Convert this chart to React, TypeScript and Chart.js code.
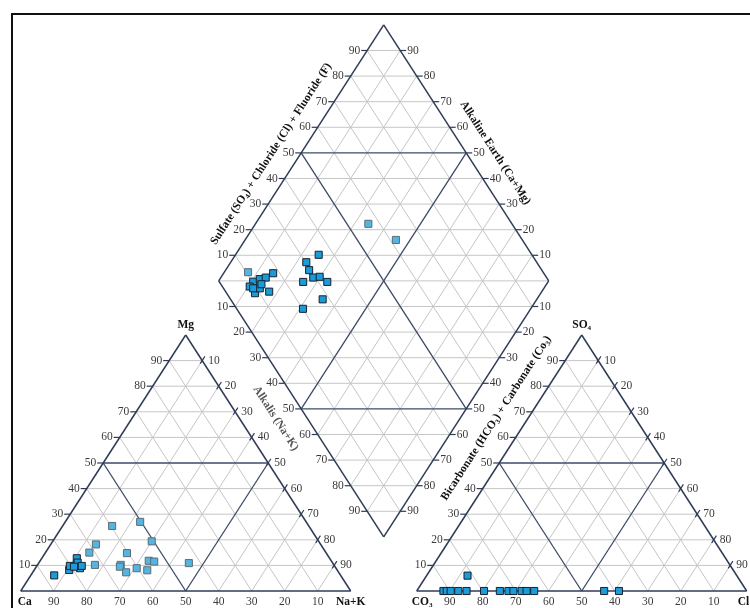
import React, { useEffect, useRef } from 'react';
import { Chart, registerables } from 'chart.js';
Chart.register(...registerables);

// ---------- data (meq %) ----------
const tickValues = [10, 20, 30, 40, 50, 60, 70, 80, 90];

// Cation triangle: Mg % and Na+K % (Ca = remainder)
const cationMgA = [6.1, 8.2, 9.8, 12.8, 11.1, 8.9, 9.8, 9.5];
const cationNaKA = [7.1, 10.6, 10.0, 10.6, 11.7, 13.5, 13.6, 11.4];
const cationMgB = [10.2, 15.0, 18.2, 25.4, 27.0, 19.4, 14.8, 10.2, 9.5, 7.3, 8.9, 8.1, 11.8, 11.5, 10.9];
const cationNaKB = [17.4, 13.3, 13.7, 15.0, 22.7, 30.0, 24.8, 25.2, 25.3, 28.3, 30.7, 34.3, 32.9, 34.7, 45.5];

// Anion triangle: SO4 % and Cl % (CO3+HCO3 = remainder)
const anionSO4 = [0, 0, 0, 0, 0, 0, 0, 0, 0, 0, 0, 0, 0, 0, 6.0];
const anionCl = [8.1, 9.1, 10.3, 12.6, 15.1, 20.4, 25.2, 27.8, 29.3, 31.8, 33.3, 35.6, 56.8, 61.3, 12.4];

// Diamond: Na+K % and SO4+Cl %
const diamondNaKA = [10.6, 12.1, 13.6, 15.0, 10.5, 13.4, 13.9, 17.4, 11.9, 13.6, 25.2, 22.9, 25.3, 28.0, 29.8, 33.1, 25.8, 35.1, 31.0];
const diamondSClA = [10.3, 12.8, 14.9, 18.0, 8.3, 8.6, 11.0, 13.2, 9.0, 12.3, 35.4, 30.2, 29.5, 29.3, 31.4, 32.7, 25.4, 27.9, 20.1];
const diamondNaKB = [7.2, 34.2, 45.7];
const diamondSClB = [10.6, 56.5, 61.7];

// ---------- geometry (units: triangle side = 100) ----------
const H = 86.6025;
const GAP = 20;
const LIFT = 18.3;
const X_MIN = -6.2727, X_MAX = 221.0;
const Y_MIN = -5.751, Y_MAX = 199.925;

type P = { x: number; y: number };
const tri = (ox: number, top: number, right: number): P => ({ x: ox + right + top / 2, y: (top * H) / 100 });
const cat = (mg: number, nak: number) => tri(0, mg, nak);
const an = (so4: number, cl: number) => tri(100 + GAP, so4, cl);
const DL: P = { x: 100 + GAP / 2 - 50, y: LIFT + H };
const dia = (nak: number, s: number): P => ({ x: DL.x + 0.5 * (nak + s), y: DL.y + ((s - nak) * H) / 100 });

type Seg = { t: string; sub?: boolean };
const FONT = '"Liberation Serif", "Times New Roman", serif';

function drawRich(ctx: CanvasRenderingContext2D, segs: Seg[], x: number, y: number, size: number, bold: boolean, color: string, align: 'left' | 'center' | 'right', angle = 0) {
  ctx.save();
  ctx.translate(x, y);
  ctx.rotate(angle);
  const f = (sub?: boolean) => `${bold ? 'bold ' : ''}${sub ? size * 0.62 : size}px ${FONT}`;
  let w = 0;
  for (const s of segs) { ctx.font = f(s.sub); w += ctx.measureText(s.t).width; }
  let cx = align === 'left' ? 0 : align === 'center' ? -w / 2 : -w;
  ctx.textBaseline = 'middle';
  ctx.textAlign = 'left';
  ctx.fillStyle = color;
  for (const s of segs) {
    ctx.font = f(s.sub);
    ctx.fillText(s.t, cx, s.sub ? size * 0.3 : 0);
    cx += ctx.measureText(s.t).width;
  }
  ctx.restore();
}

const GRID = '#c6c6c6';
const DARK = '#3d4a67';
const EDGE = '#2f3b57';
const LABEL = '#3a3a3a';

const piperPlugin = {
  id: 'piper',
  beforeDatasetsDraw(chart: any) {
    const ctx: CanvasRenderingContext2D = chart.ctx;
    const sx = chart.scales.x, sy = chart.scales.y;
    const px = (p: P): [number, number] => [sx.getPixelForValue(p.x), sy.getPixelForValue(p.y)];
    const line = (a: P, b: P, color: string, w: number) => {
      const [x1, y1] = px(a), [x2, y2] = px(b);
      ctx.beginPath(); ctx.moveTo(x1, y1); ctx.lineTo(x2, y2);
      ctx.strokeStyle = color; ctx.lineWidth = w; ctx.stroke();
    };
    ctx.save();
    ctx.fillStyle = '#ffffff';
    ctx.fillRect(0, 0, chart.width, chart.height);

    // triangles grid
    const triGrid = (ox: number) => {
      for (const pass of [0, 1]) {
        for (const v of tickValues) {
          const isDark = v === 50;
          if ((pass === 0) === isDark) continue;
          const c = isDark ? DARK : GRID, w = isDark ? 1.3 : 1;
          line(tri(ox, v, 0), tri(ox, v, 100 - v), c, w);
          line(tri(ox, 0, v), tri(ox, 100 - v, v), c, w);
          line(tri(ox, 0, 100 - v), tri(ox, 100 - v, 0), c, w);
        }
      }
      line(tri(ox, 0, 0), tri(ox, 0, 100), EDGE, 1.5);
      line(tri(ox, 0, 100), tri(ox, 100, 0), EDGE, 1.5);
      line(tri(ox, 100, 0), tri(ox, 0, 0), EDGE, 1.5);
    };
    triGrid(0);
    triGrid(100 + GAP);

    // diamond grid
    for (const pass of [0, 1]) {
      for (const v of tickValues) {
        const isDark = v === 50;
        if ((pass === 0) === isDark) continue;
        const c = isDark ? DARK : GRID, w = isDark ? 1.3 : 1;
        line(dia(v, 0), dia(v, 100), c, w);
        line(dia(0, v), dia(100, v), c, w);
      }
      for (let d = -90; d <= 90; d += 10) {
        const isDark = Math.abs(d) === 50;
        if ((pass === 0) === isDark) continue;
        const c = isDark ? DARK : GRID, w = isDark ? 1.3 : 1;
        if (d >= 0) line(dia(0, d), dia(100 - d, 100), c, w);
        else line(dia(-d, 0), dia(100, 100 + d), c, w);
      }
    }
    line(dia(0, 0), dia(0, 100), EDGE, 1.5);
    line(dia(0, 100), dia(100, 100), EDGE, 1.5);
    line(dia(100, 100), dia(100, 0), EDGE, 1.5);
    line(dia(100, 0), dia(0, 0), EDGE, 1.5);

    // ticks and labels
    const tickH = (p: P, side: -1 | 1, text: string) => {
      const [x, y] = px(p);
      ctx.beginPath(); ctx.moveTo(x, y); ctx.lineTo(x + side * 6, y);
      ctx.strokeStyle = EDGE; ctx.lineWidth = 1.2; ctx.stroke();
      drawRich(ctx, [{ t: text }], x + side * 7, y, 11.5, false, LABEL, side < 0 ? 'right' : 'left');
    };
    const tickSlant = (p: P, text: string) => {
      const [x, y] = px(p);
      ctx.beginPath(); ctx.moveTo(x - 2, y + 3); ctx.lineTo(x + 2.7, y - 4.2);
      ctx.strokeStyle = EDGE; ctx.lineWidth = 1.2; ctx.stroke();
      drawRich(ctx, [{ t: text }], x + 6, y, 11.5, false, LABEL, 'left');
    };
    const bottom = (p: P, text: string) => {
      const [x, y] = px(p);
      drawRich(ctx, [{ t: text }], x, y + 11, 11.5, false, LABEL, 'center');
    };
    for (const ox of [0, 100 + GAP]) {
      for (const v of tickValues) {
        tickH(tri(ox, v, 0), -1, String(v));
        tickSlant(tri(ox, 100 - v, v), String(v));
        bottom(tri(ox, 0, v), String(100 - v));
      }
    }
    for (const v of tickValues) {
      tickH(dia(0, v), -1, String(v));
      tickH(dia(100 - v, 100), 1, String(v));
      tickH(dia(v, 0), -1, String(v));
      tickH(dia(100, 100 - v), 1, String(v));
    }

    // corner labels
    const corner = (p: P, dx: number, dy: number, segs: Seg[], align: 'left' | 'center') => {
      const [x, y] = px(p);
      drawRich(ctx, segs, x + dx, y + dy, 11.5, true, '#111', align);
    };
    corner(tri(0, 0, 0), -3, 11, [{ t: 'Ca' }], 'left');
    corner(tri(0, 0, 100), 0, 11, [{ t: 'Na+K' }], 'center');
    corner(tri(0, 100, 0), 0, -10, [{ t: 'Mg' }], 'center');
    corner(tri(100 + GAP, 0, 0), -5, 11, [{ t: 'CO' }, { t: '3', sub: true }], 'left');
    corner(tri(100 + GAP, 0, 100), -9, 11, [{ t: 'Cl' }], 'left');
    corner(tri(100 + GAP, 100, 0), 0, -10, [{ t: 'SO' }, { t: '4', sub: true }], 'center');

    // diamond edge titles
    const edgeTitle = (a: P, b: P, dx: number, dy: number, segs: Seg[], color: string) => {
      const [x1, y1] = px(a), [x2, y2] = px(b);
      const ang = Math.atan2(y2 - y1, x2 - x1);
      drawRich(ctx, segs, (x1 + x2) / 2 + dx, (y1 + y2) / 2 + dy, 11.5, true, color, 'center', ang);
    };
    edgeTitle(dia(0, 0), dia(0, 100), -30, 1,
      [{ t: 'Sulfate (SO' }, { t: '4', sub: true }, { t: ') + Chloride (Cl) + Fluoride (F)' }], '#111');
    edgeTitle(dia(0, 100), dia(100, 100), 29, 0, [{ t: 'Alkaline Earth (Ca+Mg)' }], '#111');
    edgeTitle(dia(0, 0), dia(100, 0), -25.5, 9.5, [{ t: 'Alkalis (Na+K)' }], '#555');
    edgeTitle(dia(100, 0), dia(100, 100), 30, 9.3,
      [{ t: 'Bicarbonate (HCO' }, { t: '3', sub: true }, { t: ') + Carbonate (Co' }, { t: '3', sub: true }, { t: ')' }], '#111');
    ctx.restore();
  },
  afterDraw(chart: any) {
    const ctx: CanvasRenderingContext2D = chart.ctx;
    ctx.save();
    ctx.strokeStyle = '#111';
    ctx.lineWidth = 2;
    ctx.beginPath();
    ctx.moveTo(12, chart.height);
    ctx.lineTo(12, 14);
    ctx.lineTo(chart.width, 14);
    ctx.stroke();
    ctx.restore();
  },
};

export default function App() {
  const ref = useRef<HTMLCanvasElement | null>(null);
  useEffect(() => {
    document.body.style.margin = '0';
    const styleA = { pointStyle: 'rect', pointRadius: 5, borderWidth: 1, backgroundColor: '#1b9bd8', borderColor: '#18222e' };
    const styleB = { pointStyle: 'rect', pointRadius: 5, borderWidth: 1, backgroundColor: '#55b5e1', borderColor: '#5e6a74' };
    const chart = new Chart(ref.current as HTMLCanvasElement, {
      type: 'scatter',
      data: {
        datasets: [
          { label: 'Cations B', data: cationMgB.map((m, i) => cat(m, cationNaKB[i])), ...styleB } as any,
          { label: 'Cations A', data: cationMgA.map((m, i) => cat(m, cationNaKA[i])), ...styleA } as any,
          { label: 'Anions', data: anionSO4.map((s, i) => an(s, anionCl[i])), ...styleA } as any,
          { label: 'Diamond B', data: diamondNaKB.map((n, i) => dia(n, diamondSClB[i])), ...styleB } as any,
          { label: 'Diamond A', data: diamondNaKA.map((n, i) => dia(n, diamondSClA[i])), ...styleA } as any,
        ],
      },
      options: {
        animation: false,
        responsive: false,
        maintainAspectRatio: false,
        layout: { padding: 0, autoPadding: false },
        plugins: { legend: { display: false }, tooltip: { enabled: false }, title: { display: false } },
        scales: {
          x: { type: 'linear', min: X_MIN, max: X_MAX, display: false },
          y: { type: 'linear', min: Y_MIN, max: Y_MAX, display: false },
        },
      },
      plugins: [piperPlugin],
    });
    return () => chart.destroy();
  }, []);
  return (
    <div style={{ position: 'absolute', left: 0, top: 0, width: 750, height: 608 }}>
      <canvas ref={ref} width={750} height={608} style={{ display: 'block' }} />
    </div>
  );
}
